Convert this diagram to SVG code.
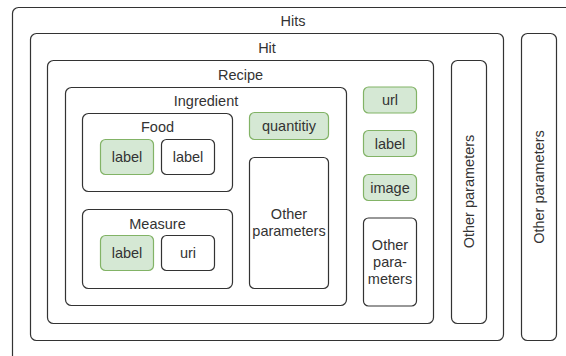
<svg xmlns="http://www.w3.org/2000/svg" width="566" height="356" viewBox="0 0 566 356">
<style>
.box{fill:#ffffff;stroke:#333333;stroke-width:1.2}
.grn{fill:#d5e8d4;stroke:#82b366;stroke-width:1.2}
text{font-family:"Liberation Sans",Arial,sans-serif;font-size:14.5px;fill:#333333;text-anchor:middle}
</style>
<rect width="566" height="356" fill="#ffffff"/>
<g id="hits">
<rect class="box" x="12.5" y="7.5" width="562" height="400" rx="6"/>
<text x="293" y="26">Hits</text>
</g>
<g id="hit">
<rect class="box" x="30.5" y="33.5" width="473" height="307" rx="6"/>
<text x="267" y="53">Hit</text>
</g>
<g id="hits-other">
<rect class="box" x="521.5" y="33.5" width="35" height="307" rx="6"/>
<text transform="translate(543.5,187) rotate(-90)">Other parameters</text>
</g>
<g id="recipe">
<rect class="box" x="47.5" y="60.5" width="386" height="263" rx="6"/>
<text x="240.5" y="80">Recipe</text>
</g>
<g id="hit-other">
<rect class="box" x="451.5" y="60.5" width="35" height="263" rx="6"/>
<text transform="translate(473.5,191.5) rotate(-90)">Other parameters</text>
</g>
<g id="ingredient">
<rect class="box" x="65.5" y="87.5" width="281" height="218" rx="6"/>
<text x="206" y="106">Ingredient</text>
</g>
<g id="food">
<rect class="box" x="82.5" y="113.5" width="150" height="78" rx="6"/>
<text x="157.5" y="132">Food</text>
</g>
<g id="food-label-green">
<rect class="grn" x="100.5" y="139.5" width="53" height="35" rx="5"/>
<text x="127" y="162">label</text>
</g>
<g id="food-label">
<rect class="box" x="161.5" y="139.5" width="53" height="35" rx="5"/>
<text x="188" y="162">label</text>
</g>
<g id="measure">
<rect class="box" x="82.5" y="209.5" width="150" height="79" rx="6"/>
<text x="157.5" y="229">Measure</text>
</g>
<g id="measure-label">
<rect class="grn" x="100.5" y="235.5" width="53" height="35" rx="5"/>
<text x="127" y="258">label</text>
</g>
<g id="measure-uri">
<rect class="box" x="161.5" y="235.5" width="53" height="35" rx="5"/>
<text x="188" y="258">uri</text>
</g>
<g id="quantity">
<rect class="grn" x="249.5" y="112.5" width="79" height="27" rx="5"/>
<text x="289" y="131">quantitiy</text>
</g>
<g id="ingredient-other">
<rect class="box" x="249.5" y="157.5" width="79" height="131" rx="5"/>
<text x="289" y="219">Other</text>
<text x="289" y="236">parameters</text>
</g>
<g id="url">
<rect class="grn" x="363.5" y="87" width="53" height="26" rx="5"/>
<text x="390" y="105">url</text>
</g>
<g id="recipe-label">
<rect class="grn" x="363.5" y="130.5" width="53" height="26" rx="5"/>
<text x="390" y="148.5">label</text>
</g>
<g id="image">
<rect class="grn" x="363.5" y="174.5" width="53" height="26" rx="5"/>
<text x="390" y="192.5">image</text>
</g>
<g id="recipe-other">
<rect class="box" x="363.5" y="218" width="53" height="88" rx="5"/>
<text x="390" y="250">Other</text>
<text x="390" y="267">para-</text>
<text x="390" y="284">meters</text>
</g>
<g id="connectors"></g>
</svg>
